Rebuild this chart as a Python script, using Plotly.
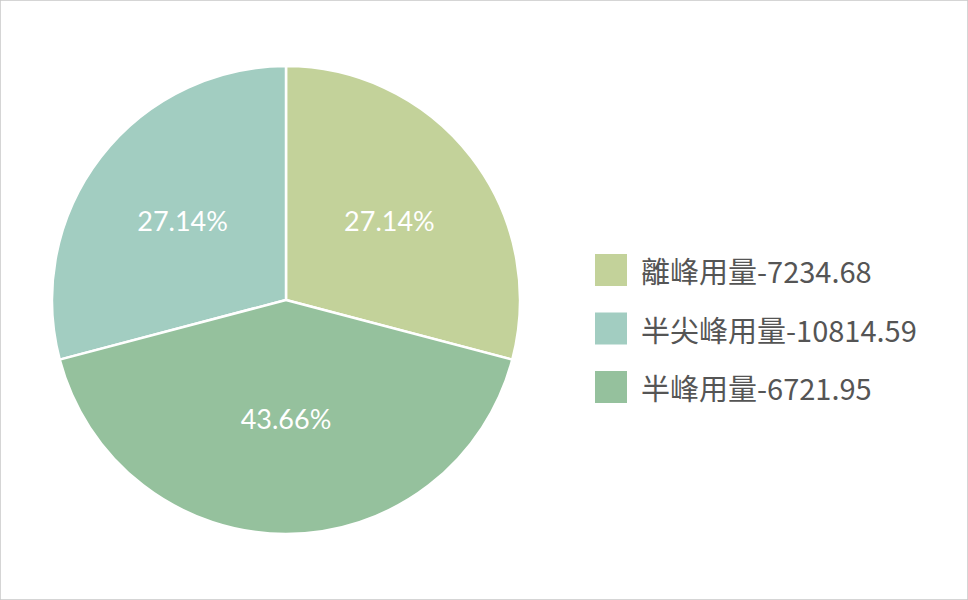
import plotly.graph_objects as go

# data
labels = ["離峰用量", "半尖峰用量", "半峰用量"]
usage = ["7234.68", "10814.59", "6721.95"]
shares = [29.1, 29.1, 41.8]          # slice sizes as drawn
pct_text = ["27.14%", "27.14%", "43.66%"]  # labels printed on slices
colors = ["#c3d29a", "#a2cdc1", "#95c19d"]

fig = go.Figure(
    go.Pie(
        labels=labels,
        values=shares,
        text=pct_text,
        textinfo="text",
        textposition="inside",
        insidetextorientation="horizontal",
        sort=False,
        direction="counterclockwise",
        rotation=0,
        marker=dict(colors=colors, line=dict(color="white", width=2.5)),
        textfont=dict(color="white", size=27, family="Lato, Noto Sans"),
        domain=dict(x=[52 / 968, 520 / 968], y=[66 / 600, 534 / 600]),
        showlegend=False,
        hoverinfo="label+text",
    )
)

# legend built by hand so the swatches can be large squares
shapes = []
annotations = []
for i, (lab, val, col) in enumerate(zip(labels, usage, colors)):
    yc = 1 - (270 + i * 58.5) / 600
    shapes.append(dict(
        type="rect", xref="paper", yref="paper",
        x0=595 / 968, x1=627 / 968,
        y0=yc - 16 / 600, y1=yc + 16 / 600,
        fillcolor=col, line=dict(width=0),
    ))
    annotations.append(dict(
        xref="paper", yref="paper", x=639 / 968, y=yc,
        xanchor="left", yanchor="middle", showarrow=False,
        text=f"{lab}-{val}",
        font=dict(size=29, color="#555555", family="Noto Sans CJK TC"),
    ))

# thin frame round the whole chart
shapes.append(dict(
    type="rect", xref="paper", yref="paper", x0=0, x1=1, y0=0, y1=1,
    line=dict(color="#c8c8c8", width=1.5), fillcolor="rgba(0,0,0,0)",
))

fig.update_layout(
    width=968,
    height=600,
    margin=dict(l=0, r=0, t=0, b=0),
    paper_bgcolor="white",
    plot_bgcolor="white",
    shapes=shapes,
    annotations=annotations,
)

fig.write_html("out.html", config={"displayModeBar": False},
               post_script="document.body.style.margin='0';")
